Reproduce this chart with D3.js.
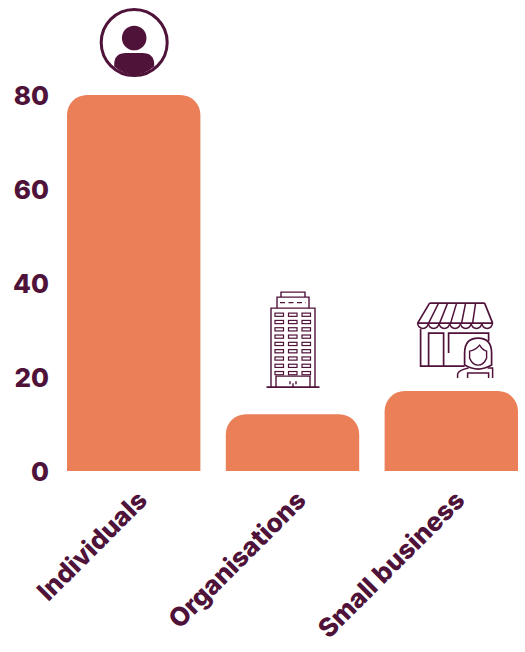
<!DOCTYPE html>
<html>
<head>
<meta charset="utf-8">
<script src="https://cdn.jsdelivr.net/npm/d3@7"></script>
<style>
html, body { margin: 0; padding: 0; background: #fff; }
svg { display: block; }
text { font-family: Inter, "Open Sans", sans-serif; font-weight: 800; fill: #4f1239; }
</style>
</head>
<body>
<script>
var categories = ["Individuals", "Organisations", "Small business"];
var values = [80, 12.1, 17];
var yTicks = [0, 20, 40, 60, 80];

var plum = "#4f1239";
var orange = "#eb7f58";

var svg = d3.select("body").append("svg").attr("width", 525).attr("height", 652);

var x = d3.scaleBand().domain(categories).range([67, 518]).paddingInner(0.16);
var y = d3.scaleLinear().domain([0, 80]).range([471, 95]);

// bars with rounded tops only
var barPath = function(d, i) {
    var x0 = x(categories[i]), w = x.bandwidth(), y0 = y(0), y1 = y(d), r = 20;
    return "M" + x0 + "," + y0 + "V" + (y1 + r) + "A" + r + "," + r + " 0 0 1 " + (x0 + r) + "," + y1 +
	"H" + (x0 + w - r) + "A" + r + "," + r + " 0 0 1 " + (x0 + w) + "," + (y1 + r) + "V" + y0 + "Z";
};
svg.selectAll("path.bar").data(values).enter().append("path")
    .attr("class", "bar").attr("d", barPath).attr("fill", orange);

var yAxis = svg.append("g").attr("transform", "translate(49,1)")
    .call(d3.axisLeft(y).tickValues(yTicks).tickSize(0).tickPadding(0));
yAxis.select(".domain").remove();
yAxis.selectAll("text").style("font-size", "26px").style("font-family", "Inter").style("font-weight", 800).attr("fill", plum);

var xAxis = svg.append("g").attr("transform", "translate(0,471)")
    .call(d3.axisBottom(x).tickSize(0).tickPadding(0));
xAxis.select(".domain").remove();
xAxis.selectAll("text")
    .style("font-size", "26px").style("font-family", "Inter").style("font-weight", 800)
    .attr("fill", plum).attr("text-anchor", "end").attr("dy", 0).attr("x", 0).attr("y", 0)
    .attr("transform", "translate(15,31) rotate(-45)");

// icons sit just above each bar
var line = function(g, d, sw) {
    return g.append("path").attr("d", d).attr("fill", "none").attr("stroke", plum).attr("stroke-width", sw || 1.3);
};

// person
var cx = x(categories[0]) + x.bandwidth() / 2;
var person = svg.append("g").attr("transform", "translate(" + (cx + 0.5) + "," + (y(values[0]) - 52.5) + ")");
person.append("circle").attr("r", 33).attr("fill", "none").attr("stroke", plum).attr("stroke-width", 3);
person.append("circle").attr("cy", -4.5).attr("r", 12.3).attr("fill", plum);
person.append("path").attr("fill", plum)
    .attr("d", "M-20,24V22Q-20,10.5 -8,10.5H8Q20,10.5 20,22V24Q11,32 0,32Q-11,32 -20,24Z");

// building
cx = x(categories[1]) + x.bandwidth() / 2;
var building = svg.append("g").attr("transform", "translate(" + (cx + 0.5) + "," + (y(values[1]) - 27) + ")");
line(building, "M-26.5,0H26.5", 1.6);
line(building, "M-22,0V-79H22V0M-17,0V-11H17V0M0,0V-4M-3,-6V-3M3,-6V-3", 1.4);
line(building, "M-16,-79V-90H16V-79M-12,-90V-95H12V-90", 1.4);
line(building, "M-13,-84.5H13", 1.2).attr("stroke-dasharray", "5 3.5");
d3.range(9).forEach(function(r) {
    [-18, -4.5, 9].forEach(function(c) {
	building.append("rect").attr("x", c).attr("y", -74 + r * 7.3).attr("width", 8.5).attr("height", 3.2)
	    .attr("fill", "none").attr("stroke", plum).attr("stroke-width", 1.2);
    });
});

// shop with shopkeeper
var shop = svg.append("g").attr("transform", "translate(" + x(categories[2]) + "," + (y(values[2]) - 88) + ")");
line(shop, "M45,0H100M45,0L33,20M108,20L100,0", 1.7);
line(shop, "M33,20H108", 1.7);
[54, 63, 72, 81, 91].forEach(function(t, i) {
    line(shop, "M" + t + ",0L" + (44 + i * 11) + ",20", 1.5);
});
d3.range(7).forEach(function(i) {
    line(shop, "M" + (33 + i * 10.7) + ",20a5.35,5.35 0 0 0 10.7,0", 1.5);
});
line(shop, "M36,26V63H80M44,63V30H59V63M64,50V30H104V38", 1.7);
shop.append("path").attr("fill", "#fff").attr("stroke", plum).attr("stroke-width", 1.7)
    .attr("d", "M80,62V50Q80,35 93.5,35Q107,35 107,50V62Q100,66 93.5,66Q87,66 80,62Z");
line(shop, "M85,55V48Q91,47 95,42Q98,47 102,48V55Q99,62 93.5,62Q88,62 85,55Z", 1.4);
line(shop, "M73,75V71Q74,67 84,65M108,75V65H103M83,75V70H104V75", 1.5);
</script>
</body>
</html>
